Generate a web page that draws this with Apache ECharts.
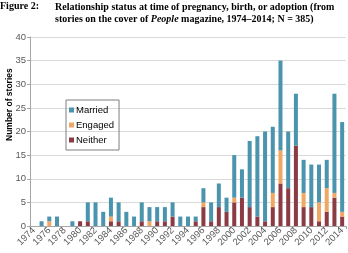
<!DOCTYPE html>
<html>
<head>
<meta charset="utf-8">
<script src="https://cdn.jsdelivr.net/npm/echarts@6/dist/echarts.min.js"></script>
<style>
  html, body { margin: 0; padding: 0; background: #fff; }
  #chart { width: 348px; height: 253px; }
</style>
</head>
<body>
<div id="chart"></div>
<script>
var years = []
for (var y = 1974; y <= 2014; y++) years.push(String(y))

// stories per year
var neither = [0,0,0,0,0,0,1,1,0,0,1,1,0,0,1,0,1,1,2,0,0,1,4,1,4,3,5,6,4,2,1,4,9,8,17,4,4,1,3,6,2]
var engaged = [0,0,1,0,0,0,0,0,0,0,1,0,0,0,0,1,0,0,0,0,0,0,1,0,0,0,1,0,0,0,0,3,7,0,0,3,0,4,5,1,1]
var married = [0,1,1,2,0,1,0,4,5,3,4,4,3,2,4,3,3,3,3,2,2,1,3,4,5,3,9,6,14,17,19,14,19,12,11,7,9,8,6,21,19]
var yTicks = [0, 5, 10, 15, 20, 25, 30, 35, 40]

var chart = echarts.init(document.getElementById('chart'))

var labelFont = { fontFamily: 'Liberation Sans', fontSize: 9.5, color: '#595959' }

var option = {
    animation: false,
    title: [{
        text: 'Figure 2:',
        left: 0, top: 1, padding: 0,
        textStyle: { fontFamily: 'Liberation Serif', fontSize: 10, fontWeight: 'bold', color: '#000' }
    }, {
        text: 'Relationship status at time of pregnancy, birth, or adoption (from\nstories on the cover of {i|People} magazine, 1974\u20132014; N = 385)',
        left: 55, top: 1, padding: 0,
        textStyle: {
            fontFamily: 'Liberation Serif', fontSize: 10, fontWeight: 'bold', color: '#000', lineHeight: 12.5,
            rich: { i: { fontFamily: 'Liberation Serif', fontSize: 10, fontWeight: 'bold', fontStyle: 'italic', color: '#000' } }
        }
    }],
    graphic: [{
        type: 'text',
        x: 5, y: 141, rotation: Math.PI / 2,
        style: { text: 'Number of stories', font: 'bold 8.5px Liberation Sans', fill: '#000', textAlign: 'left', textVerticalAlign: 'top' }
    }],
    legend: {
        orient: 'vertical',
        left: 66, top: 100,
        padding: [5, 5, 5, 3],
        itemGap: 5,
        itemWidth: 5, itemHeight: 5,
        icon: 'rect',
        borderColor: '#7f7f7f', borderWidth: 1,
        textStyle: { fontFamily: 'Liberation Sans', fontSize: 9.5, color: '#000', padding: [0, 0, 0, -3] },
        data: ['Married', 'Engaged', 'Neither']
    },
    grid: { left: 30, right: 2, top: 37, bottom: 27 },
    xAxis: {
        type: 'category',
        data: years,
        axisLine: { lineStyle: { color: '#a6a6a6' } },
        axisTick: { show: true, length: 3, lineStyle: { color: '#a6a6a6' } },
        axisLabel: Object.assign({ rotate: 45, interval: 1, margin: 3 }, labelFont)
    },
    yAxis: {
        type: 'value',
        min: yTicks[0], max: yTicks[yTicks.length - 1], interval: 5,
        axisLine: { show: true, lineStyle: { color: '#a6a6a6' } },
        axisTick: { show: true, length: 3, lineStyle: { color: '#a6a6a6' } },
        axisLabel: Object.assign({ margin: 4 }, labelFont),
        splitLine: { lineStyle: { color: '#d9d9d9' } }
    },
    series: [{
        name: 'Neither', type: 'bar', stack: 's', barWidth: '52%',
        itemStyle: { color: '#8b3b43' }, data: neither
    }, {
        name: 'Engaged', type: 'bar', stack: 's',
        itemStyle: { color: '#f0a763' }, data: engaged
    }, {
        name: 'Married', type: 'bar', stack: 's',
        itemStyle: { color: '#4a94ae' }, data: married
    }]
}
chart.setOption(option)
</script>
</body>
</html>
